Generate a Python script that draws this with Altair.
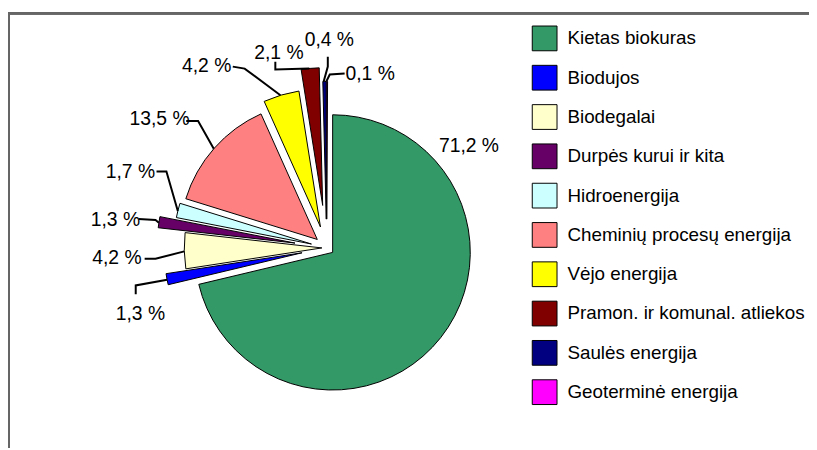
import math
import pandas as pd
import altair as alt

# ---------------- data ----------------
categories = [
    "Kietas biokuras",
    "Biodujos",
    "Biodegalai",
    "Durpės kurui ir kita",
    "Hidroenergija",
    "Cheminių procesų energija",
    "Vėjo energija",
    "Pramon. ir komunal. atliekos",
    "Saulės energija",
    "Geoterminė energija",
]
values = [71.2, 1.3, 4.2, 1.3, 1.7, 13.5, 4.2, 2.1, 0.4, 0.1]

# ---------------- style / layout ----------------
colors = ["#339966", "#0000FF", "#FFFFCC", "#660066", "#CCFFFF",
          "#FF8080", "#FFFF00", "#800000", "#000080", "#FF00FF"]
W, H = 809, 442
CX, CY = 322, 240          # pie centre (px)
R = 139                    # pie radius (px)
FONT = "Liberation Sans"
FS = 19.5
LEG_FS = 19

# explode distance of each slice (px)
explode = {
    "Kietas biokuras": 7.5, "Biodujos": 25.5, "Biodegalai": 5,
    "Durpės kurui ir kita": 32.5, "Hidroenergija": 16,
    "Cheminių procesų energija": 12.8, "Vėjo energija": 22,
    "Pramon. ir komunal. atliekos": 43, "Saulės energija": 29,
    "Geoterminė energija": 29,
}
# label placement: (angle deg clockwise from top, distance px) from pie centre
label_place = {
    "Kietas biokuras": (54.3, 176.8), "Biodujos": (250.5, 199.7),
    "Biodegalai": (267.3, 212.2), "Durpės kurui ir kita": (277.6, 215.4),
    "Hidroenergija": (291.0, 212.5), "Cheminių procesų energija": (307.6, 213.2),
    "Vėjo energija": (326.6, 220.4), "Pramon. ir komunal. atliekos": (346.2, 203.0),
    "Saulės energija": (0.7, 210.2), "Geoterminė energija": (14.0, 180.9),
}
# leader line: start (near label) and elbow, as offsets from pie centre
leader = {
    "Biodujos": ((-193, 47), (-193, 38)),
    "Biodegalai": ((-184, 11), (-173, 11)),
    "Durpės kurui ir kita": ((-190, -29), (-173, -28)),
    "Hidroenergija": ((-172, -77), (-162, -77)),
    "Cheminių procesų energija": ((-142, -128), (-130, -128)),
    "Vėjo energija": ((-95, -183), (-83, -181)),
    "Pramon. ir komunal. atliekos": ((-52, -188), (-52, -180)),
    "Saulės energija": ((1, -193), (1, -183)),
    "Geoterminė energija": ((18, -176), (3, -175)),
}

# ---------------- derived tables ----------------
total = sum(values)
slice_rows, label_rows, line_rows = [], [], []
cum = 0.0
for i, (c, v) in enumerate(zip(categories, values)):
    a0 = cum / total * 2 * math.pi
    cum += v
    a1 = cum / total * 2 * math.pi
    mid = (a0 + a1) / 2
    d = explode[c]
    slice_rows.append({"idx": i, "cat": c, "value": v,
                       "cx": CX + d * math.sin(mid), "cy": CY - d * math.cos(mid)})
    la, ld = label_place[c]
    la = math.radians(la)
    label_rows.append({"cat": c, "label": f"{v:.1f}".replace(".", ",") + " %",
                       "lx": CX + ld * math.sin(la), "ly": CY - ld * math.cos(la)})
    if c in leader:
        (sx, sy), (ex, ey) = leader[c]
        end = (CX + (d + R) * math.sin(mid), CY - (d + R) * math.cos(mid))
        pts = [(CX + sx, CY + sy), (CX + ex, CY + ey), end]
        for k, (px, py) in enumerate(pts):
            line_rows.append({"cat": c, "ord": k, "px": px, "py": py})

slices = pd.DataFrame(slice_rows)
labels = pd.DataFrame(label_rows)
lines = pd.DataFrame(line_rows)

# ---------------- chart ----------------
arcs = (
    alt.Chart(slices)
    .transform_stack(stack="value", as_=["t0", "t1"], groupby=[],
                     sort=[alt.SortField("idx", order="ascending")])
    .mark_arc(radius=R, stroke="black", strokeWidth=1)
    .encode(
        theta=alt.Theta("t0:Q", stack=None, scale=alt.Scale(zero=True, nice=False)),
        theta2="t1:Q",
        x=alt.X("cx:Q", scale=None, stack=None),
        y=alt.Y("cy:Q", scale=None, stack=None),
        color=alt.Color(
            "cat:N",
            scale=alt.Scale(domain=categories, range=colors),
            legend=alt.Legend(
                orient="none", legendX=529, legendY=15.5, title=None,
                symbolType="square", symbolSize=625, symbolStrokeColor="black",
                symbolStrokeWidth=1, symbolOpacity=1,
                labelFont=FONT, labelFontSize=LEG_FS, labelColor="black",
                labelOffset=10, labelLimit=400, rowPadding=9.7, padding=0,
            ),
        ),
    )
)

leaders = (
    alt.Chart(lines)
    .mark_line(color="black", strokeWidth=2)
    .encode(
        x=alt.X("px:Q", scale=None),
        y=alt.Y("py:Q", scale=None),
        detail="cat:N",
        order="ord:Q",
    )
)

texts = (
    alt.Chart(labels)
    .mark_text(font=FONT, fontSize=FS, color="black", align="center", baseline="middle")
    .encode(
        x=alt.X("lx:Q", scale=None),
        y=alt.Y("ly:Q", scale=None),
        text="label:N",
    )
)

border_top = alt.Chart(slices).mark_rule(color="#666666", strokeWidth=2).encode(
    x=alt.value(0), x2=alt.value(W), y=alt.value(3))
border_left = alt.Chart(slices).mark_rule(color="#666666", strokeWidth=2).encode(
    x=alt.value(1), y=alt.value(2), y2=alt.value(H))

chart = (
    alt.layer(border_top, border_left, arcs, leaders, texts)
    .properties(width=W, height=H, padding=0,
                autosize=alt.AutoSizeParams(type="none"),
                background="white")
    .configure_view(stroke=None)
)

chart.save("out.html", embed_options={"renderer": "svg", "actions": False})
